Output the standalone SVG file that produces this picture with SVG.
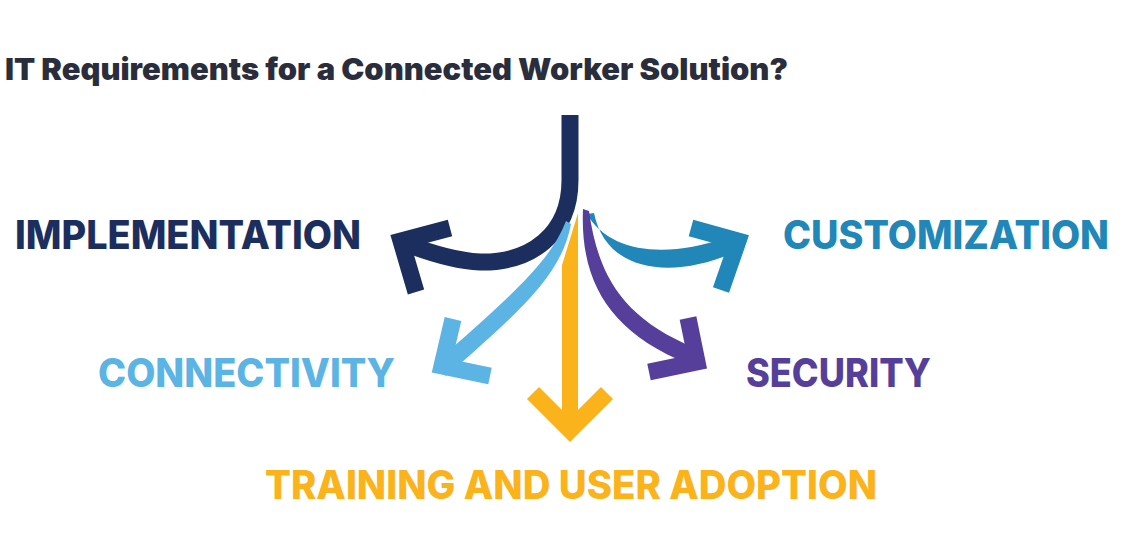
<svg xmlns="http://www.w3.org/2000/svg" width="1140" height="550" viewBox="0 0 1140 550">
  <style>
    .title { font-family: Inter, "Open Sans", "Liberation Sans", sans-serif; font-weight: 900; font-size: 30px; fill: #2a2d3b; }
    .lbl { font-family: Inter, "Open Sans", "Liberation Sans", sans-serif; font-weight: 800; font-size: 39px; }
    .shaft { fill: none; stroke-width: 17; stroke-linecap: butt; }
    .head { fill: none; stroke-width: 17; stroke-linecap: butt; stroke-linejoin: miter; stroke-miterlimit: 10; }
  </style>
  <rect width="1140" height="550" fill="#ffffff"/>

  <text id="title" class="title" x="5" y="80" textLength="783" lengthAdjust="spacingAndGlyphs">IT Requirements for a Connected Worker Solution?</text>

  <g id="connectors">
    <g id="arrow-implementation">
      <path class="shaft" stroke="#1c2e5d" d="M570,115 L570,180 C570,235 530,263 480,262 C455,261 430,253 404,243"/>
      <path class="head" stroke="#1c2e5d" d="M450,228 L401,241 L416,292"/>
    </g>
    <g id="arrow-customization">
      <path fill="#2087b8" d="M587,214 C610,254 668,258 725,238 L731,254 C670,279 606,272 594,213 Z"/>
      <path class="head" stroke="#2087b8" d="M691,228 L738,241 L721,290"/>
    </g>
    <g id="arrow-connectivity">
      <path fill="#5cb4e5" d="M566,221 C550,262 513,294 434,364 L446,376 C527,306 562,272 571,224 Z"/>
      <path class="head" stroke="#5cb4e5" d="M453,319 L442,366 L490,376"/>
    </g>
    <g id="arrow-security">
      <path fill="#553f9a" d="M583,209 C580,280 608,332 689,364 L695,348 C622,318 598,275 589,211 Z"/>
      <path class="head" stroke="#553f9a" d="M688,318 L697,362 L649,372"/>
    </g>
    <g id="arrow-training">
      <path fill="#fbb31b" d="M578,213 L578,432 L562,432 L562,265 Z"/>
      <path class="head" stroke="#fbb31b" d="M533,393 L570,430 L607,393"/>
    </g>
  </g>

  <g id="node-implementation">
    <text class="lbl" fill="#1c2e5d" x="15" y="249" textLength="346" lengthAdjust="spacingAndGlyphs">IMPLEMENTATION</text>
  </g>
  <g id="node-customization">
    <text class="lbl" fill="#2087b8" x="783" y="249" textLength="326" lengthAdjust="spacingAndGlyphs">CUSTOMIZATION</text>
  </g>
  <g id="node-connectivity">
    <text class="lbl" fill="#5cb4e5" x="98" y="387" textLength="297" lengthAdjust="spacingAndGlyphs">CONNECTIVITY</text>
  </g>
  <g id="node-security">
    <text class="lbl" fill="#553f9a" x="746" y="387" textLength="185" lengthAdjust="spacingAndGlyphs">SECURITY</text>
  </g>
  <g id="node-training">
    <text class="lbl" fill="#fbb31b" x="265" y="499" textLength="612" lengthAdjust="spacingAndGlyphs">TRAINING AND USER ADOPTION</text>
  </g>
</svg>
